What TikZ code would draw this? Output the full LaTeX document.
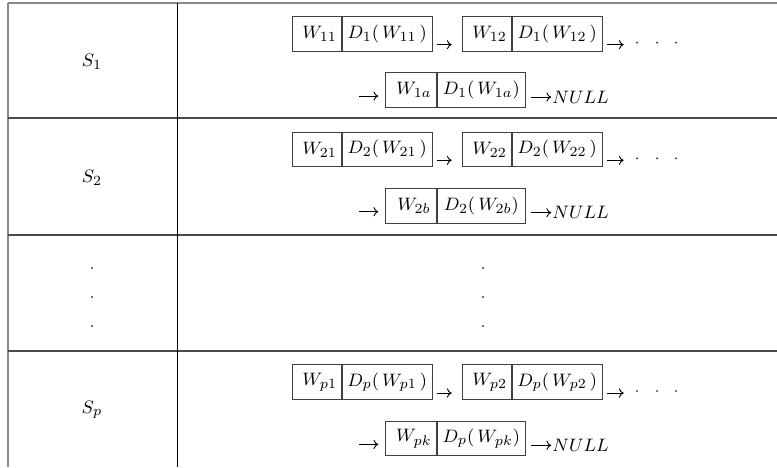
\documentclass[tikz,border=0pt]{standalone}
\usetikzlibrary{arrows.meta}
\definecolor{boxgray}{HTML}{404040}
\definecolor{rulegray}{HTML}{4A4A4A}
\definecolor{edgegray}{HTML}{8A8A8A}
\tikzset{
  wcell/.style={draw=boxgray, line width=0.5pt, minimum width=24.5pt, minimum height=17.35pt, inner sep=0pt, anchor=north west},
  dcell/.style={draw=boxgray, line width=0.5pt, minimum width=45pt, minimum height=17.35pt, inner sep=0pt, anchor=north west},
  conn/.style={line width=0.45pt, -{To[length=2.4pt,width=4.6pt]}},
  lbl/.style={inner sep=0pt},
  tick/.style={fill=boxgray}
}
\newcommand\listrow[8]{%
  \node[wcell] (#1w1) at (291.7,#2+13.3) {\hspace{3pt}$#3$};
  \node[dcell] (#1d1) at (#1w1.north east) {$#4$};
  \node[wcell] (#1w2) at (461.7,#2+13.3) {\hspace{3pt}$#5$};
  \node[dcell] (#1d2) at (#1w2.north east) {$#6$};
  \draw[conn] ([xshift=2pt,yshift=3.5pt]#1d1.south east) -- ([xshift=-5pt,yshift=3.5pt]#1w2.south west);
  \coordinate (#1e2) at ([xshift=10.5pt,yshift=3.5pt]#1d2.south east);
  \draw[conn] ([xshift=2pt,yshift=3.5pt]#1d2.south east) -- (#1e2);
  \fill[tick] ([xshift=17.2pt,yshift=4.5pt]#1d2.south east) circle (0.55pt);
  \fill[tick] ([xshift=27.2pt,yshift=4.5pt]#1d2.south east) circle (0.55pt);
  \fill[tick] ([xshift=36.7pt,yshift=4.5pt]#1d2.south east) circle (0.55pt);
  \node[wcell, minimum width=25.2pt] (#1w3) at (385.3,#2+69.7) {\hspace{3pt}$#7$};
  \node[dcell, minimum width=44.15pt] (#1d3) at (#1w3.north east) {$#8$};
  \coordinate (#1s3) at ([xshift=-13pt,yshift=6pt]#1w3.south west);
  \draw[conn] (#1s3) -- ([xshift=-3.5pt,yshift=6pt]#1w3.south west);
  \coordinate (#1e3) at ([xshift=12.6pt,yshift=5.5pt]#1d3.south east);
  \draw[conn] ([xshift=2.5pt,yshift=5.5pt]#1d3.south east) -- (#1e3);
  \node[lbl, anchor=base west] (#1null) at ([xshift=13pt,yshift=2.5pt]#1d3.south east) {$NULL$};
}
\begin{document}
\begin{tikzpicture}[x=0.5pt, y=-0.5pt, font=\fontsize{9.5}{11.5}\selectfont]
\useasboundingbox (0,0) rectangle (777,467);
% table rules
\draw[edgegray, line width=1pt] (7.5,2.7) -- (777,2.7);
\draw[edgegray, line width=1pt] (7.5,2.7) -- (7.5,467);
\foreach \yy in {118.3,235.3,351} {
  \draw[rulegray, line width=0.9pt] (7.5,\yy) -- (777,\yy);
}
\draw[black, line width=0.6pt] (177.5,2.7) -- (177.5,467);
% left column labels
\node[lbl] (s1) at (92,62) {$S_1$};
\node[lbl] (s2) at (92,178) {$S_2$};
\node[lbl] (sp) at (92,410) {$S_p$};
\foreach \yy in {268,297,326} {
  \fill[tick] (92,\yy) circle (0.55pt);
  \fill[tick] (483,\yy) circle (0.55pt);
}
% rows
\listrow{a}{2.7}{W_{11}}{D_1(\,W_{11}\,)}{W_{12}}{D_1(\,W_{12}\,)}{W_{1a}}{D_1(\,W_{1a})}
\listrow{b}{118.3}{W_{21}}{D_2(\,W_{21}\,)}{W_{22}}{D_2(\,W_{22}\,)}{W_{2b}}{D_2(\,W_{2b})}
\listrow{c}{351}{W_{p1}}{D_p(\,W_{p1}\,)}{W_{p2}}{D_p(\,W_{p2}\,)}{W_{pk}}{D_p(\,W_{pk})}
\end{tikzpicture}
\end{document}
